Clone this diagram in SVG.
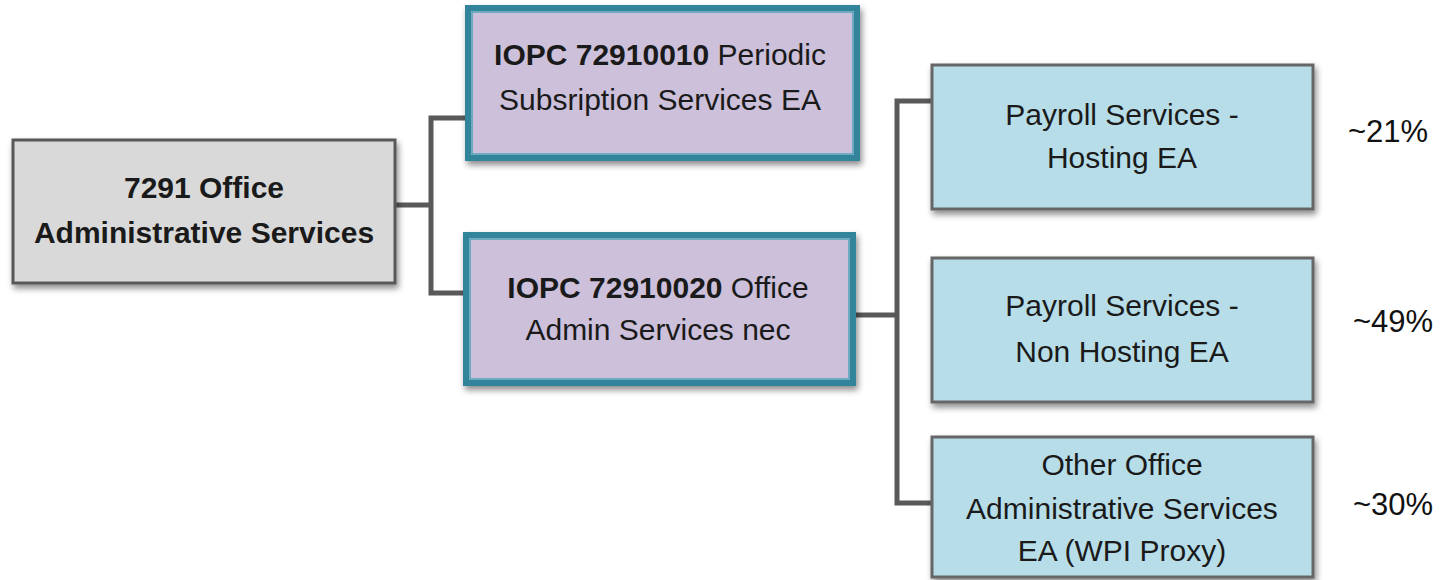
<svg xmlns="http://www.w3.org/2000/svg" width="1447" height="580" viewBox="0 0 1447 580">
<defs>
<filter id="sh" x="-10%" y="-10%" width="125%" height="130%">
<feDropShadow dx="2" dy="4" stdDeviation="3" flood-color="#000" flood-opacity="0.45"/>
</filter>
<style>
.t{font-family:"Liberation Sans",Arial,sans-serif;font-size:30px;fill:#1a1a1a;text-anchor:middle}
.b{font-weight:bold}
.pct{font-family:"Liberation Sans",Arial,sans-serif;font-size:31px;fill:#111}
.root{fill:#d9d9d9;stroke:#595959;stroke-width:3}
.iopc{fill:#ccc0da;stroke:#31849b;stroke-width:6}
.iopcin{fill:none;stroke:#4fa3b8;stroke-width:1.5}
.leaf{fill:#b7dde8;stroke:#666;stroke-width:3}
.con{fill:none;stroke:#595959;stroke-width:5}
</style>
</defs>
<rect width="1447" height="580" fill="#fff"/>
<g id="connectors">
<path class="con" d="M395 205 H431 M468 118 H431 V293 H466"/>
<path class="con" d="M853 315 H897 M932 101 H897 V503 H932"/>
</g>
<g id="root">
<rect class="root" x="13" y="140" width="382" height="143" filter="url(#sh)"/>
<text class="t b" x="204" y="198">7291 Office</text>
<text class="t b" x="204" y="243">Administrative Services</text>
</g>
<g id="iopc1">
<rect class="iopc" x="468" y="8" width="389" height="150" filter="url(#sh)"/>
<rect class="iopcin" x="472" y="12" width="381" height="142"/>
<text class="t" x="660" y="65"><tspan class="b">IOPC 72910010</tspan> Periodic</text>
<text class="t" x="660" y="110">Subsription Services EA</text>
</g>
<g id="iopc2">
<rect class="iopc" x="466" y="235" width="387" height="148" filter="url(#sh)"/>
<rect class="iopcin" x="470" y="239" width="379" height="140"/>
<text class="t" x="658" y="298"><tspan class="b">IOPC 72910020</tspan> Office</text>
<text class="t" x="658" y="340">Admin Services nec</text>
</g>
<g id="payroll-hosting">
<rect class="leaf" x="932" y="65" width="381" height="144" filter="url(#sh)"/>
<text class="t" x="1122" y="125">Payroll Services -</text>
<text class="t" x="1122" y="168">Hosting EA</text>
</g>
<g id="payroll-nonhosting">
<rect class="leaf" x="932" y="258" width="381" height="144" filter="url(#sh)"/>
<text class="t" x="1122" y="316">Payroll Services -</text>
<text class="t" x="1122" y="362">Non Hosting EA</text>
</g>
<g id="other">
<rect class="leaf" x="932" y="437" width="381" height="140" filter="url(#sh)"/>
<text class="t" x="1122" y="475">Other Office</text>
<text class="t" x="1122" y="519">Administrative Services</text>
<text class="t" x="1122" y="561">EA (WPI Proxy)</text>
</g>
<g id="percentages">
<text class="pct" x="1348" y="142">~21%</text>
<text class="pct" x="1353" y="332">~49%</text>
<text class="pct" x="1353" y="515">~30%</text>
</g>
</svg>
